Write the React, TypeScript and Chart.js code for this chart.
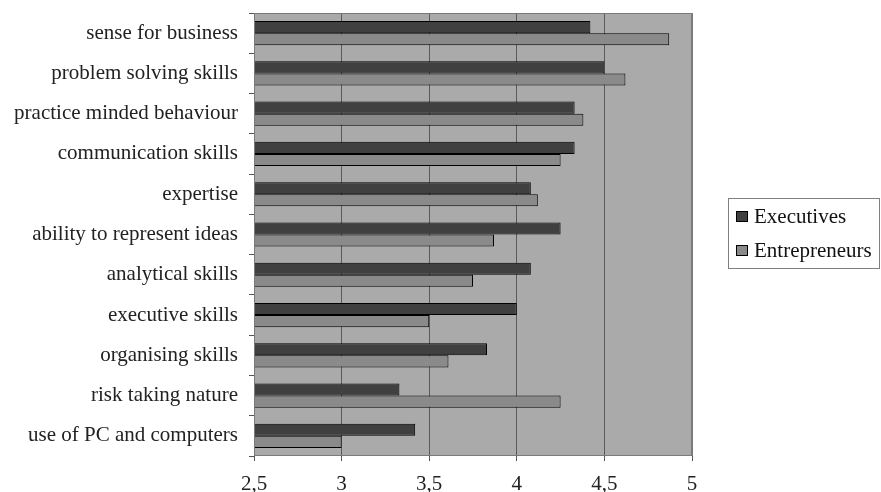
import React, { useEffect, useRef } from "react";
import { Chart, registerables } from "chart.js";

Chart.register(...registerables);

const categories = [
  "sense for business",
  "problem solving skills",
  "practice minded behaviour",
  "communication skills",
  "expertise",
  "ability to represent ideas",
  "analytical skills",
  "executive skills",
  "organising skills",
  "risk taking nature",
  "use of PC and computers",
];
const executives = [4.42, 4.5, 4.33, 4.33, 4.08, 4.25, 4.08, 4.0, 3.83, 3.33, 3.42];
const entrepreneurs = [4.87, 4.62, 4.38, 4.25, 4.12, 3.87, 3.75, 3.5, 3.61, 4.25, 3.0];
const xTicks = [2.5, 3, 3.5, 4, 4.5, 5];
const seriesNames = ["Executives", "Entrepreneurs"];

const FONT = "'Liberation Serif', 'Times New Roman', serif";

const plotBg = {
  id: "plotBg",
  beforeDraw(chart: any) {
    const { ctx, chartArea: a } = chart;
    ctx.save();
    ctx.fillStyle = "#aaaaaa";
    ctx.fillRect(a.left, a.top, a.right - a.left, a.bottom - a.top);
    ctx.restore();
  },
  afterDatasetsDraw(chart: any) {
    const { ctx, chartArea: a } = chart;
    ctx.save();
    ctx.strokeStyle = "#7a7a7a";
    ctx.lineWidth = 1;
    ctx.strokeRect(a.left + 0.5, a.top + 0.5, a.right - a.left - 1, a.bottom - a.top - 1);
    ctx.restore();
  },
};

const boxLegend = {
  id: "boxLegend",
  afterDraw(chart: any) {
    const { ctx } = chart;
    const x = 728, y = 198, w = 152, h = 71;
    ctx.save();
    ctx.fillStyle = "#ffffff";
    ctx.fillRect(x, y, w, h);
    ctx.strokeStyle = "#808080";
    ctx.lineWidth = 1;
    ctx.strokeRect(x + 0.5, y + 0.5, w - 1, h - 1);
    ctx.font = `21px ${FONT}`;
    ctx.textBaseline = "middle";
    chart.data.datasets.forEach((ds: any, i: number) => {
      const cy = y + 19 + i * 34;
      ctx.fillStyle = ds.backgroundColor;
      ctx.fillRect(x + 8, cy - 6, 12, 11);
      ctx.strokeStyle = "#000000";
      ctx.strokeRect(x + 8.5, cy - 5.5, 11, 10);
      ctx.fillStyle = "#111111";
      ctx.fillText(ds.label, x + 26, cy);
    });
    ctx.restore();
  },
};

export default function App() {
  const ref = useRef<HTMLCanvasElement>(null);
  useEffect(() => {
    if (!ref.current) return;
    const chart = new Chart(ref.current, {
      type: "bar",
      data: {
        labels: categories,
        datasets: [
          {
            label: seriesNames[0],
            data: executives,
            backgroundColor: "#404040",
            borderColor: "#000000",
            borderWidth: 1,
            borderSkipped: false,
            categoryPercentage: 0.6,
            barPercentage: 1,
          },
          {
            label: seriesNames[1],
            data: entrepreneurs,
            backgroundColor: "#8a8a8a",
            borderColor: "#000000",
            borderWidth: 1,
            borderSkipped: false,
            categoryPercentage: 0.6,
            barPercentage: 1,
          },
        ],
      },
      options: {
        indexAxis: "y",
        animation: false,
        responsive: false,
        devicePixelRatio: 1,
        layout: { padding: { top: 13, right: 189, left: 0, bottom: 0 } },
        plugins: { legend: { display: false }, tooltip: { enabled: false } },
        scales: {
          x: {
            type: "linear",
            min: 2.5,
            max: 5,
            afterBuildTicks(scale: any) {
              scale.ticks = xTicks.map((v) => ({ value: v }));
            },
            afterFit(scale: any) {
              scale.height = 36;
              scale.paddingLeft = 0;
              scale.paddingRight = 0;
            },
            border: { display: false },
            grid: {
              color: (c: any) =>
                c.tick && (c.tick.value === 2.5 || c.tick.value === 5) ? "#7a7a7a" : "#5a5a5a",
              lineWidth: 1,
              drawOnChartArea: true,
              drawTicks: true,
              tickLength: 5,
              tickColor: "#555555",
            },
            ticks: {
              color: "#222222",
              font: { family: FONT, size: 21 },
              padding: 11,
              maxRotation: 0,
              callback: (v: any) => String(v).replace(".", ","),
            },
          },
          y: {
            type: "category",
            afterFit(scale: any) {
              scale.width = 254;
              scale.paddingTop = 0;
              scale.paddingBottom = 0;
            },
            border: { display: false },
            grid: {
              offset: true,
              drawOnChartArea: false,
              drawTicks: true,
              tickLength: 5,
              tickColor: "#555555",
            },
            ticks: {
              color: "#222222",
              font: { family: FONT, size: 21 },
              padding: 11,
            },
          },
        },
      },
      plugins: [plotBg, boxLegend],
    });
    return () => chart.destroy();
  }, []);
  return (
    <div style={{ position: "fixed", left: 0, top: 0, width: 881, height: 492, background: "#fff" }}>
      <canvas ref={ref} width={881} height={492} style={{ width: 881, height: 492, display: "block" }} />
    </div>
  );
}
